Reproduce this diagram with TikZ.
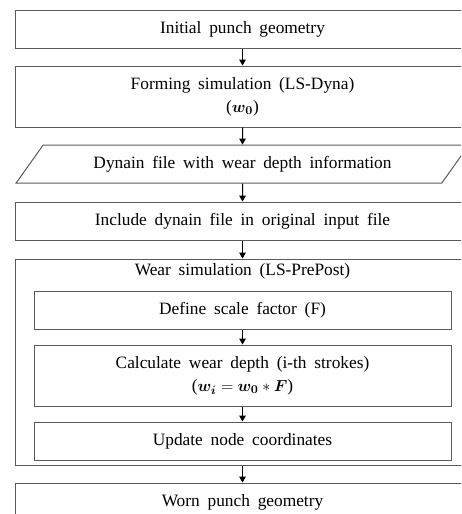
\documentclass[tikz,border=0pt]{standalone}
\usepackage{amsmath}
\usepackage{bm}
\usepackage{fontspec}
\setmainfont[WordSpace=1.8]{Liberation Serif}
\usepackage{tikz}
\usetikzlibrary{shapes.geometric, arrows.meta, positioning}
\definecolor{boxgray}{RGB}{90,90,90}
\tikzset{
  procbox/.style={rectangle, draw=boxgray, minimum width=340.5pt,
    minimum height=28.5pt, align=center, line width=0.75pt, inner sep=2pt},
  tallbox/.style={procbox, minimum height=45.75pt},
  subbox/.style={procbox, minimum width=312.75pt},
  databox/.style={trapezium, trapezium left angle=46, trapezium right angle=134,
    trapezium stretches=true, draw=boxgray, minimum width=340.5pt,
    minimum height=28.5pt, line width=0.75pt, inner sep=2pt},
  arrow/.style={-{Triangle[length=4.5pt, width=5pt]}, line width=0.75pt, black}
}

\begin{document}
\begin{tikzpicture}[x=0.75pt, y=-0.75pt, font=\fontsize{13}{17.5}\selectfont]
  \useasboundingbox (0,0) rectangle (461,514);
  \clip (0,0) rectangle (461,514);

  \node (init) [procbox] at (242.5,29) {Initial punch geometry};
  \node (form) [tallbox, below=12.75pt of init] {Forming simulation (LS-Dyna)\\($\bm{w_0}$)};
  \node (dynain) [databox, below=12.75pt of form] {Dynain file with wear depth information};
  \node (include) [procbox, below=13.5pt of dynain] {Include dynain file in original input file};
  \node (wear) [procbox, minimum height=154.5pt, below=13.5pt of include] {};
  \node (weartitle) [below=0.5pt of wear.north] {Wear simulation (LS-PrePost)};
  \node (scale) [subbox, below=24pt of wear.north] {Define scale factor (F)};
  \node (calc) [subbox, minimum height=45.75pt, below=11.25pt of scale] {Calculate wear depth (i-th strokes)\\($\bm{w_i} = \bm{w_0} * \bm{F}$)};
  \node (update) [subbox, below=11.25pt of calc] {Update node coordinates};
  \node (worn) [procbox, below=12.75pt of wear] {Worn punch geometry};

  \draw [arrow] (init) -- (form);
  \draw [arrow] (form) -- (dynain);
  \draw [arrow] (dynain) -- (include);
  \draw [arrow] (include) -- (wear);
  \draw [arrow] (scale) -- (calc);
  \draw [arrow] (calc) -- (update);
  \draw [arrow] (wear) -- (worn);
\end{tikzpicture}
\end{document}
